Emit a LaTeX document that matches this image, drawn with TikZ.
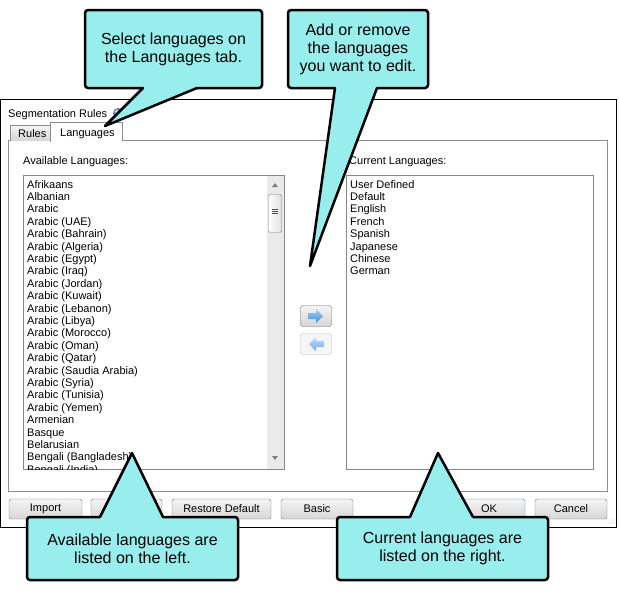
\documentclass[tikz,border=0pt]{standalone}
\usepackage{fontspec}
\setmainfont{Liberation Sans}
\definecolor{calloutfill}{RGB}{152,238,236}
\definecolor{panelgray}{RGB}{137,140,149}
\definecolor{listgray}{RGB}{130,135,144}
\definecolor{btngray}{RGB}{112,112,112}
\definecolor{btnlight}{RGB}{244,244,244}
\definecolor{btndark}{RGB}{214,214,214}
\definecolor{okblue}{RGB}{60,127,177}
\definecolor{arrowblue}{RGB}{58,146,222}
\definecolor{trackgray}{RGB}{234,234,234}
\definecolor{helpblue}{RGB}{120,170,230}
\tikzset{
  dlgtext/.style={font=\fontsize{11}{12}\selectfont, inner sep=0pt, anchor=base west},
  dlgbutton/.style={draw=btngray, rounded corners=2.5pt, top color=btnlight, bottom color=btndark,
    font=\fontsize{11}{12}\selectfont, inner sep=0pt, minimum height=20pt},
  callout/.style={draw=black, line width=2.5pt, fill=calloutfill, rounded corners=3pt,
    font=\fontsize{16}{18}\selectfont, align=center, inner sep=0pt, outer sep=0pt},
  calloutline/.style={draw=black, line width=2.5pt, line cap=round, line join=round}
}
\begin{document}
\begin{tikzpicture}[x=1pt,y=-1pt]
\useasboundingbox (0,0) rectangle (619,590);
% dialog window
\draw[black] (0.5,99.5) rectangle (616.5,527.5);
\node[dlgtext] (title) at (8,117) {Segmentation Rules};
\shade[ball color=helpblue] (118,113) circle (5);
\draw[panelgray] (8.5,140.5) rectangle (607.5,491.5);
\draw[panelgray, top color=btnlight, bottom color=btndark] (10.5,140.5) -- (10.5,125.5) -- (50.5,125.5) -- (50.5,140.5);
\fill[white] (50.5,122.5) rectangle (122.5,141.5);
\draw[panelgray] (50.5,141.5) -- (50.5,122.5) -- (122.5,122.5) -- (122.5,140.5);
\node[dlgtext] (rulestab) at (18,137) {Rules};
\node[dlgtext] (langtab) at (60,136.5) {Languages};
\node[dlgtext] (availlabel) at (23,164) {Available Languages:};
\node[dlgtext] (currlabel) at (349,164) {Current Languages:};
% available list
\draw[listgray, fill=white] (23.5,175.5) rectangle (284.5,469.5);
\fill[trackgray] (267,176) rectangle (284,469);
\draw[gray, rounded corners=1.5pt, left color=white, right color=gray!25] (268.5,194.5) rectangle (281.5,232.5);
\foreach \y in {209,211,213}
  \draw[black!70] (272,\y) -- (278,\y);
\fill[gray] (272,187) -- (278,187) -- (275,183) -- cycle;
\fill[gray] (272,456) -- (278,456) -- (275,460) -- cycle;
\begin{scope}
\clip (24,176) rectangle (266,469);
\foreach \lang [count=\i from 0] in {Afrikaans, Albanian, Arabic, Arabic (UAE), Arabic (Bahrain),
  Arabic (Algeria), Arabic (Egypt), Arabic (Iraq), Arabic (Jordan), Arabic (Kuwait),
  Arabic (Lebanon), Arabic (Libya), Arabic (Morocco), Arabic (Oman), Arabic (Qatar),
  Arabic (Saudia Arabia), Arabic (Syria), Arabic (Tunisia), Arabic (Yemen), Armenian,
  Basque, Belarusian, Bengali (Bangladesh), Bengali (India)}
  \node[dlgtext] (avail\i) at (27,188+12.4*\i) {\lang};
\end{scope}
% current list
\draw[listgray, fill=white] (346.5,175.5) rectangle (593.5,469.5);
\foreach \lang [count=\i from 0] in {User Defined, Default, English, French, Spanish, Japanese, Chinese, German}
  \node[dlgtext] (curr\i) at (350,188+12.4*\i) {\lang};
% move buttons
\draw[dlgbutton] (300.5,305.5) rectangle (331.5,326.5);
\shade[top color=arrowblue!45!white, bottom color=arrowblue] (308,313) -- (316,313) -- (316,309) -- (323,316) -- (316,323) -- (316,319) -- (308,319) -- cycle;
\draw[gray!50, fill=gray!8, rounded corners=2.5pt] (300.5,333.5) rectangle (331.5,354.5);
\shade[top color=arrowblue!30!white, bottom color=arrowblue!75!white] (324,341) -- (316,341) -- (316,337) -- (309,344) -- (316,351) -- (316,347) -- (324,347) -- cycle;
% bottom buttons
\node[dlgbutton, minimum width=73pt] (import) at (45.5,509) {Import};
\node[dlgbutton, minimum width=71pt] (export) at (126.5,509) {};
\node[dlgbutton, minimum width=99pt] (restore) at (221.5,509) {Restore Default};
\node[dlgbutton, minimum width=72pt] (basic) at (317,509) {Basic};
\node[dlgbutton, draw=okblue, minimum width=72pt] (ok) at (489,509) {OK};
\node[dlgbutton, minimum width=72pt] (cancel) at (571,509) {Cancel};
\foreach \p in {(613,523),(610,523),(613,520)}
  \fill[gray!70] \p circle (0.7);
% callouts
\node[callout, minimum width=177pt, minimum height=78pt] (selnote) at (173.5,49) {Select languages on\\the Languages tab.};
\coordinate (seltip) at (105,126);
\fill[calloutfill] ([xshift=-30.5pt,yshift=2.5pt]selnote.south) -- ([xshift=-30.5pt]selnote.south) -- (seltip) -- ([xshift=23.5pt]selnote.south) -- ([xshift=23.5pt,yshift=2.5pt]selnote.south) -- cycle;
\draw[calloutline] ([xshift=-30.5pt]selnote.south) -- (seltip) -- ([xshift=23.5pt]selnote.south);

\node[callout, minimum width=140pt, minimum height=78pt] (addnote) at (358,49) {Add or remove\\the languages\\you want to edit.};
\coordinate (addtip) at (310,266);
\fill[calloutfill] ([xshift=-23pt,yshift=2.5pt]addnote.south) -- ([xshift=-23pt]addnote.south) -- (addtip) -- ([xshift=19pt]addnote.south) -- ([xshift=19pt,yshift=2.5pt]addnote.south) -- cycle;
\draw[calloutline] ([xshift=-23pt]addnote.south) -- (addtip) -- ([xshift=19pt]addnote.south);

\node[callout, minimum width=211pt, minimum height=63pt] (availnote) at (132.5,548.5) {Available languages are\\listed on the left.};
\coordinate (availtip) at (132,453);
\fill[calloutfill] ([xshift=-32.5pt,yshift=-2.5pt]availnote.north) -- ([xshift=-32.5pt]availnote.north) -- (availtip) -- ([xshift=30.5pt]availnote.north) -- ([xshift=30.5pt,yshift=-2.5pt]availnote.north) -- cycle;
\draw[calloutline] ([xshift=-32.5pt]availnote.north) -- (availtip) -- ([xshift=30.5pt]availnote.north);

\node[callout, minimum width=211pt, minimum height=63pt] (currnote) at (442.5,548.5) {Current languages are\\listed on the right.};
\coordinate (currtip) at (438,453);
\fill[calloutfill] ([xshift=-32.5pt,yshift=-2.5pt]currnote.north) -- ([xshift=-32.5pt]currnote.north) -- (currtip) -- ([xshift=30.5pt]currnote.north) -- ([xshift=30.5pt,yshift=-2.5pt]currnote.north) -- cycle;
\draw[calloutline] ([xshift=-32.5pt]currnote.north) -- (currtip) -- ([xshift=30.5pt]currnote.north);
\end{tikzpicture}
\end{document}
